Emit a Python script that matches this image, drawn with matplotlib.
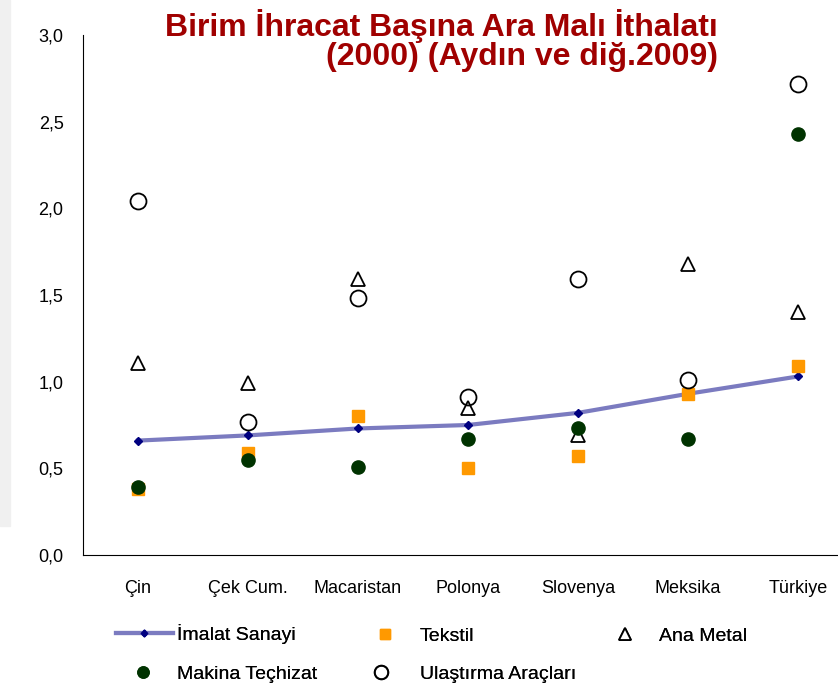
import matplotlib
matplotlib.use("Agg")
import matplotlib.pyplot as plt
from matplotlib.patches import Rectangle

plt.rcParams['font.family'] = ['Liberation Sans', 'DejaVu Sans']

# Data
countries = ["Çin", "Çek Cum.", "Macaristan", "Polonya", "Slovenya", "Meksika", "Türkiye"]
imalat = [0.66, 0.69, 0.73, 0.75, 0.82, 0.93, 1.03]
tekstil = [0.38, 0.59, 0.80, 0.50, 0.57, 0.93, 1.09]
ana_metal = [1.11, 0.99, 1.59, 0.85, 0.69, 1.68, 1.40]
makina = [0.39, 0.55, 0.51, 0.67, 0.73, 0.67, 2.43]
ulastirma = [2.04, 0.77, 1.48, 0.91, 1.59, 1.01, 2.72]
yticks = [0.0, 0.5, 1.0, 1.5, 2.0, 2.5, 3.0]

x = list(range(len(countries)))
W, H = 838, 686

fig = plt.figure(figsize=(W / 100, H / 100), dpi=100)
# light grey slide strip on the left
fig.patches.append(Rectangle((0, 1 - 526 / H), 10 / W, 526 / H,
                             transform=fig.transFigure, color="#f0f0f0", zorder=0))

ax = fig.add_axes([83 / W, 131 / H, 770 / W, 520 / H])

l1, = ax.plot(x, imalat, color="#7b7bc0", lw=3, marker="D", ms=4,
              mfc="#000080", mec="#000080", label="İmalat Sanayi", zorder=3)
l2, = ax.plot(x, tekstil, ls="none", marker="s", ms=9, color="#ff9900",
              label="Tekstil", zorder=4)
l3, = ax.plot(x, ana_metal, ls="none", marker="^", ms=10, mfc="white",
              mec="black", mew=1.3, label="Ana Metal", zorder=5)
l4, = ax.plot(x, makina, ls="none", marker="o", ms=9.5, color="#003300",
              label="Makina Teçhizat", zorder=6)
l5, = ax.plot(x, ulastirma, ls="none", marker="o", ms=11.5, mfc="none",
              mec="black", mew=1.3, label="Ulaştırma Araçları", zorder=7)

ax.set_xlim(-0.5, 6.5)
ax.set_ylim(0, 3.0)
ax.set_yticks(yticks)
ax.set_yticklabels([f"{v:.1f}".replace(".", ",") for v in yticks])
ax.set_xticks(x)
ax.set_xticklabels(countries)
ax.tick_params(axis="both", length=0, labelsize=13)
ax.tick_params(axis="x", pad=18)
ax.tick_params(axis="y", pad=14)
ax.spines["top"].set_visible(False)
ax.spines["right"].set_visible(False)
ax.set_facecolor("none")

fig.text(718 / W, 1 - 9 / H, "Birim İhracat Başına Ara Malı İthalatı\n(2000) (Aydın ve diğ.2009)",
         ha="right", va="top", color="#a00000", fontsize=23, fontweight="bold",
         linespacing=0.97)

# legend entries: (handle, label, left px, centre y px, handlelength, handletextpad)
entries = [
    (l1, "İmalat Sanayi", 116, 634, 2.93, 0.2),
    (l2, "Tekstil", 375, 636, 1.0, 1.3),
    (l3, "Ana Metal", 615, 636, 1.0, 1.25),
    (l4, "Makina Teçhizat", 133, 674, 1.0, 1.25),
    (l5, "Ulaştırma Araçları", 371, 674, 1.0, 1.5),
]
for h, lab, px, py, hl, tp in entries:
    leg = fig.legend([h], [lab], loc="center left", bbox_to_anchor=(px / W, 1 - py / H),
                     frameon=False, fontsize=14, handlelength=hl, handletextpad=tp,
                     borderpad=0, borderaxespad=0, markerscale=0.85)
    fig.add_artist(leg)

fig.savefig("out.png", dpi=100)
